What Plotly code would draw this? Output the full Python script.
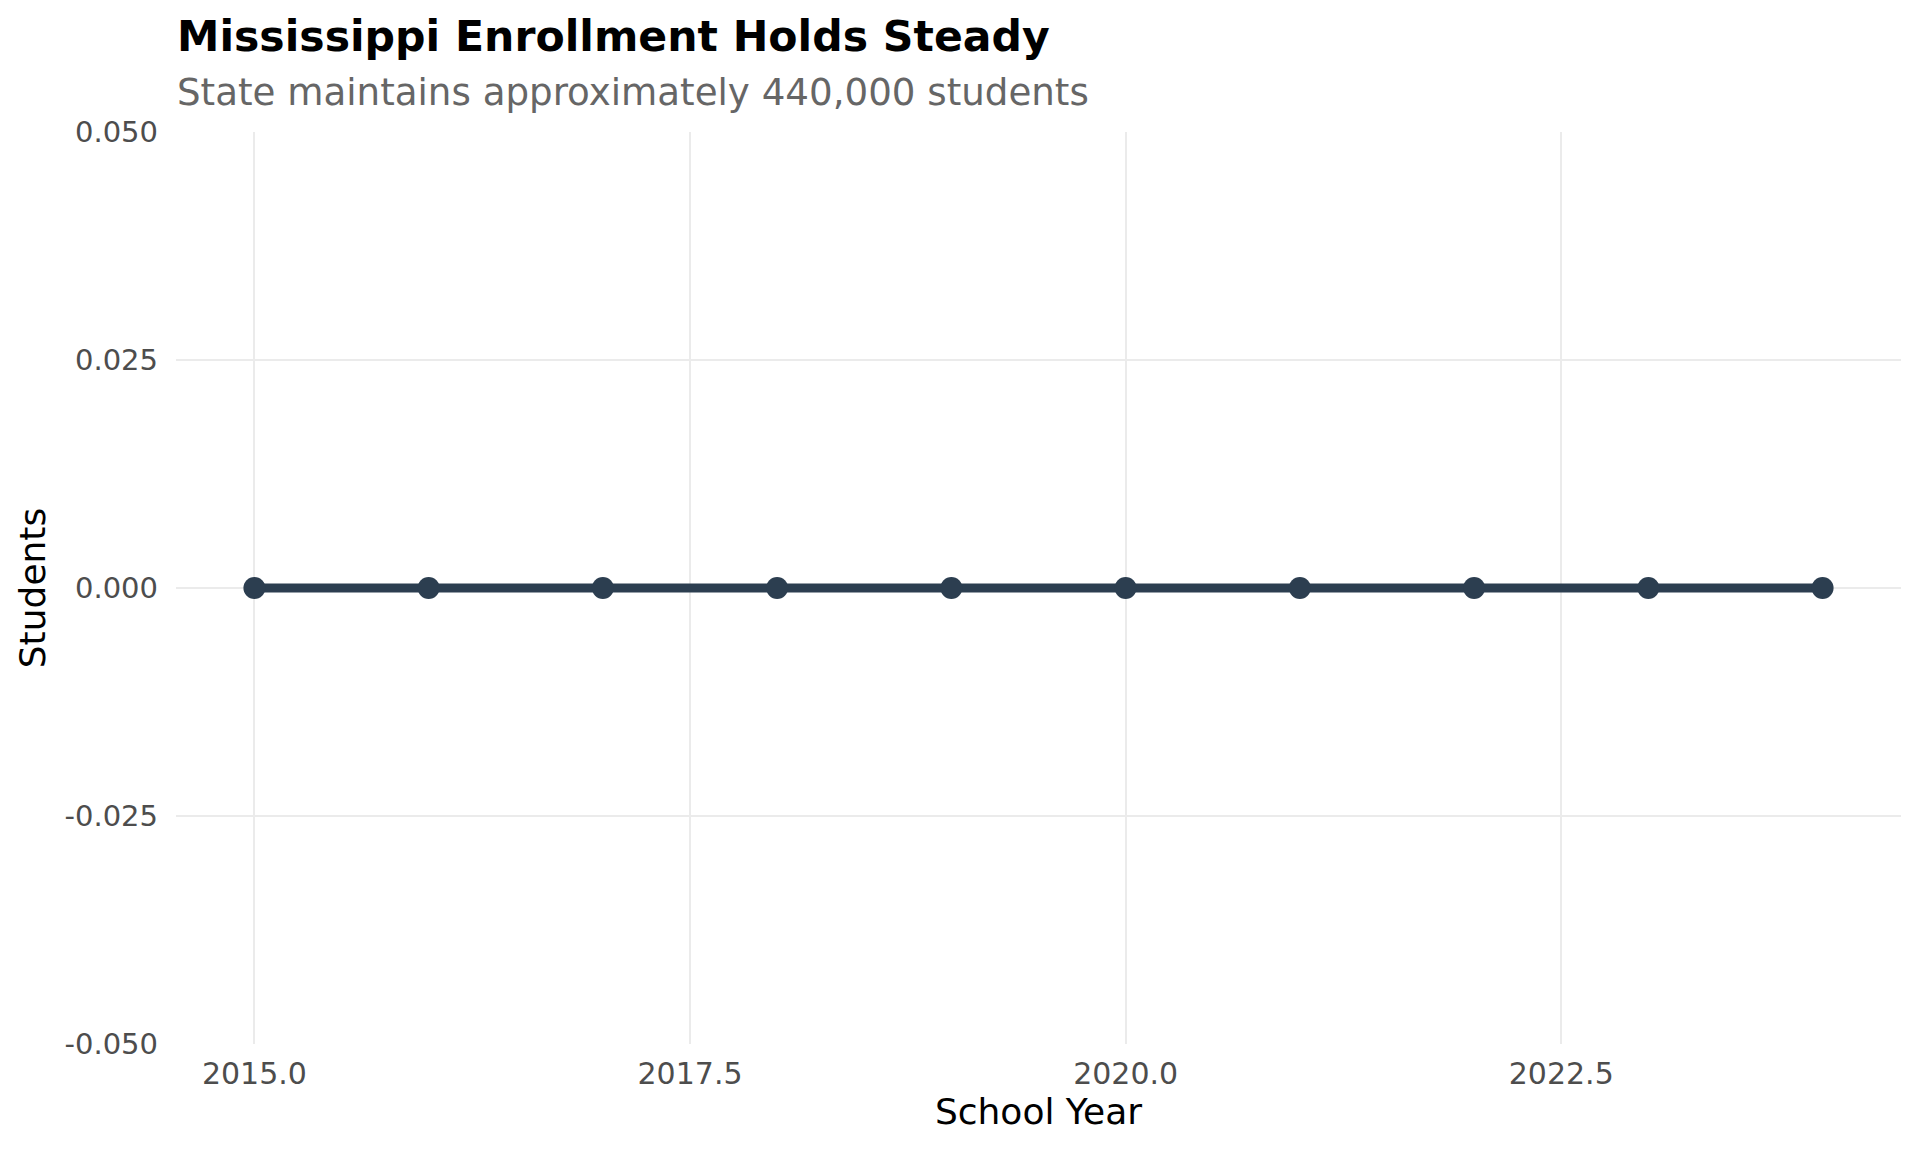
import plotly.graph_objects as go

years = [2015, 2016, 2017, 2018, 2019, 2020, 2021, 2022, 2023, 2024]
students = [0, 0, 0, 0, 0, 0, 0, 0, 0, 0]

x_tickvals = [2015, 2017.5, 2020, 2022.5]
x_ticktext = ["2015.0", "2017.5", "2020.0", "2022.5"]
y_tickvals = [-0.05, -0.025, 0, 0.025, 0.05]
y_ticktext = ["-0.050", "-0.025", "0.000", "0.025", "0.050"]

title_text = "Mississippi Enrollment Holds Steady"
subtitle_text = "State maintains approximately 440,000 students"

FONT = "DejaVu Sans"
LINE_COLOR = "#2C3E50"
GRID = "#EBEBEB"

fig = go.Figure()
fig.add_trace(go.Scatter(
    x=years, y=students, mode="lines+markers",
    line=dict(color=LINE_COLOR, width=9),
    marker=dict(color=LINE_COLOR, size=22),
    showlegend=False, hoverinfo="x+y",
))

fig.update_layout(
    width=1904, height=1136,
    margin=dict(l=168, r=11, t=124, b=100),
    paper_bgcolor="white", plot_bgcolor="white",
    font=dict(family=FONT, color="#4D4D4D"),
    showlegend=False,
    annotations=[
        dict(text="<b>" + title_text + "</b>", xref="paper", yref="paper",
             x=0, y=1, xanchor="left", yanchor="middle", xshift=-1, yshift=132 - 36,
             showarrow=False, font=dict(family=FONT, size=42.6, color="#000000")),
        dict(text=subtitle_text, xref="paper", yref="paper",
             x=0, y=1, xanchor="left", yanchor="middle", xshift=-1, yshift=132 - 92,
             showarrow=False, font=dict(family=FONT, size=37.2, color="#666666")),
    ],
)

fig.update_xaxes(
    range=[2014.55, 2024.45],
    tickvals=x_tickvals, ticktext=x_ticktext,
    showgrid=True, gridcolor=GRID, gridwidth=2,
    zeroline=False, showline=False, ticks="",
    tickfont=dict(family=FONT, size=30, color="#4D4D4D"),
    ticklabelstandoff=9,
    title=dict(text="School Year", font=dict(family=FONT, size=36, color="#000000"), standoff=7),
)
fig.update_yaxes(
    range=[-0.05, 0.05],
    tickvals=y_tickvals, ticktext=y_ticktext,
    showgrid=True, gridcolor=GRID, gridwidth=2,
    zeroline=False, showline=False, ticks="",
    tickfont=dict(family=FONT, size=29, color="#4D4D4D"),
    ticklabelstandoff=17,
    title=dict(text="Students", font=dict(family=FONT, size=36, color="#000000"), standoff=7),
)

fig.write_html("out.html")
